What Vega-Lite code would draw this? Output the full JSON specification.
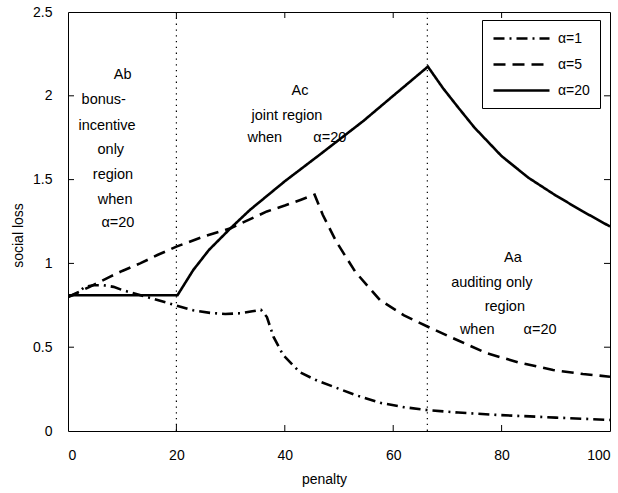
{
  "$schema": "https://vega.github.io/schema/vega-lite/v6.json",
  "width": 542,
  "height": 419,
  "autosize": {"type": "none"},
  "padding": {"left": 68, "top": 12, "right": 8, "bottom": 62},
  "background": "white",
  "config": {
    "font": "Liberation Sans",
    "view": {"stroke": "black", "strokeWidth": 1},
    "axis": {
      "grid": false, "domain": false, "ticks": false,
      "labelColor": "black", "labelFontSize": 14, "labelFont": "Liberation Sans",
      "titleColor": "black", "titleFontSize": 14, "titleFontWeight": "normal", "titleFont": "Liberation Sans"
    },
    "legend": {
      "orient": "none", "legendX": 414, "legendY": 8,
      "strokeColor": "black", "fillColor": "white", "padding": 10, "rowPadding": 10,
      "symbolType": "M-4,0H4", "symbolSize": 196, "symbolOffset": 21, "symbolStrokeWidth": 2.6, "symbolStrokeColor": "black",
      "labelFontSize": 14, "labelFont": "Liberation Sans", "labelColor": "black", "labelOffset": 28, "cornerRadius": 0
    }
  },
  "resolve": {"axis": {"x": "independent", "y": "independent"}},
  "layer": [
    {
      "data": {"values": [
        {"series": "α=1", "penalty": 0, "loss": 0.80},
        {"series": "α=1", "penalty": 1.6, "loss": 0.82},
        {"series": "α=1", "penalty": 3.1, "loss": 0.86},
        {"series": "α=1", "penalty": 4.7, "loss": 0.87},
        {"series": "α=1", "penalty": 6.5, "loss": 0.87},
        {"series": "α=1", "penalty": 8.4, "loss": 0.86},
        {"series": "α=1", "penalty": 10.1, "loss": 0.84},
        {"series": "α=1", "penalty": 14.5, "loss": 0.80},
        {"series": "α=1", "penalty": 18.8, "loss": 0.76},
        {"series": "α=1", "penalty": 23.1, "loss": 0.72},
        {"series": "α=1", "penalty": 26.2, "loss": 0.705},
        {"series": "α=1", "penalty": 29, "loss": 0.698},
        {"series": "α=1", "penalty": 32, "loss": 0.703},
        {"series": "α=1", "penalty": 34, "loss": 0.714},
        {"series": "α=1", "penalty": 35.6, "loss": 0.723},
        {"series": "α=1", "penalty": 36.7, "loss": 0.68},
        {"series": "α=1", "penalty": 37.9, "loss": 0.563},
        {"series": "α=1", "penalty": 39.7, "loss": 0.453},
        {"series": "α=1", "penalty": 42.8, "loss": 0.35},
        {"series": "α=1", "penalty": 46, "loss": 0.30},
        {"series": "α=1", "penalty": 49, "loss": 0.264},
        {"series": "α=1", "penalty": 53, "loss": 0.215},
        {"series": "α=1", "penalty": 57.6, "loss": 0.168},
        {"series": "α=1", "penalty": 62, "loss": 0.142},
        {"series": "α=1", "penalty": 66.2, "loss": 0.125},
        {"series": "α=1", "penalty": 72, "loss": 0.11},
        {"series": "α=1", "penalty": 79.7, "loss": 0.095},
        {"series": "α=1", "penalty": 90, "loss": 0.08},
        {"series": "α=1", "penalty": 100, "loss": 0.066},
        {"series": "α=5", "penalty": 0, "loss": 0.80},
        {"series": "α=5", "penalty": 2, "loss": 0.83},
        {"series": "α=5", "penalty": 4, "loss": 0.86},
        {"series": "α=5", "penalty": 7.7, "loss": 0.92},
        {"series": "α=5", "penalty": 10, "loss": 0.955},
        {"series": "α=5", "penalty": 13.3, "loss": 1.0},
        {"series": "α=5", "penalty": 16.5, "loss": 1.05},
        {"series": "α=5", "penalty": 20, "loss": 1.10},
        {"series": "α=5", "penalty": 25, "loss": 1.16},
        {"series": "α=5", "penalty": 30, "loss": 1.21},
        {"series": "α=5", "penalty": 36.7, "loss": 1.31},
        {"series": "α=5", "penalty": 40, "loss": 1.345},
        {"series": "α=5", "penalty": 43, "loss": 1.38},
        {"series": "α=5", "penalty": 45.5, "loss": 1.41},
        {"series": "α=5", "penalty": 47, "loss": 1.29},
        {"series": "α=5", "penalty": 49.5, "loss": 1.13},
        {"series": "α=5", "penalty": 53, "loss": 0.95},
        {"series": "α=5", "penalty": 57.6, "loss": 0.78},
        {"series": "α=5", "penalty": 62, "loss": 0.69},
        {"series": "α=5", "penalty": 66.2, "loss": 0.625},
        {"series": "α=5", "penalty": 72, "loss": 0.54},
        {"series": "α=5", "penalty": 77.2, "loss": 0.465},
        {"series": "α=5", "penalty": 83, "loss": 0.41},
        {"series": "α=5", "penalty": 89.5, "loss": 0.364},
        {"series": "α=5", "penalty": 95, "loss": 0.34},
        {"series": "α=5", "penalty": 100, "loss": 0.324},
        {"series": "α=20", "penalty": 0, "loss": 0.81},
        {"series": "α=20", "penalty": 20.2, "loss": 0.81},
        {"series": "α=20", "penalty": 23.1, "loss": 0.96},
        {"series": "α=20", "penalty": 26, "loss": 1.08},
        {"series": "α=20", "penalty": 30, "loss": 1.21},
        {"series": "α=20", "penalty": 33.6, "loss": 1.32},
        {"series": "α=20", "penalty": 40, "loss": 1.49},
        {"series": "α=20", "penalty": 46.5, "loss": 1.65},
        {"series": "α=20", "penalty": 54.5, "loss": 1.85},
        {"series": "α=20", "penalty": 60, "loss": 2.0},
        {"series": "α=20", "penalty": 66.4, "loss": 2.174},
        {"series": "α=20", "penalty": 69.2, "loss": 2.045},
        {"series": "α=20", "penalty": 72, "loss": 1.93},
        {"series": "α=20", "penalty": 75, "loss": 1.81},
        {"series": "α=20", "penalty": 80, "loss": 1.64},
        {"series": "α=20", "penalty": 85, "loss": 1.51},
        {"series": "α=20", "penalty": 90, "loss": 1.405},
        {"series": "α=20", "penalty": 95, "loss": 1.31},
        {"series": "α=20", "penalty": 100, "loss": 1.22}
      ]},
      "mark": {"type": "line", "color": "black", "strokeWidth": 2.6, "strokeJoin": "miter", "clip": true},
      "encoding": {
        "x": {"field": "penalty", "type": "quantitative", "scale": {"domain": [0, 100], "nice": false},
              "axis": {"orient": "bottom", "values": [0, 20, 40, 60, 80, 100], "title": "penalty", "labelPadding": 17,
                       "titleX": 256, "titleY": 48, "titleBaseline": "middle", "titleAlign": "center"}},
        "y": {"field": "loss", "type": "quantitative", "scale": {"domain": [0, 2.5], "nice": false},
              "axis": {"orient": "left", "values": [0, 0.5, 1, 1.5, 2, 2.5], "format": ".1~f", "title": "social loss", "labelPadding": 16,
                       "titleX": -50, "titleY": 223, "titleBaseline": "middle", "titleAlign": "center", "titleAngle": 270}},
        "strokeDash": {"field": "series", "type": "nominal",
                       "scale": {"domain": ["α=1", "α=5", "α=20"], "range": [[11, 5, 2, 5], [12, 7], [1, 0]]},
                       "legend": {"title": null}},
        "detail": {"field": "series"}
      }
    },
    {
      "data": {"values": [{"boundary": 20}, {"boundary": 66.3}]},
      "mark": {"type": "rule", "color": "black", "strokeWidth": 1.2, "strokeDash": [1.3, 4.5]},
      "encoding": {
        "x": {"field": "boundary", "type": "quantitative", "axis": null}
      }
    },
    {
      "data": {"values": [{"xt": 20}, {"xt": 40}, {"xt": 60}, {"xt": 80}]},
      "layer": [
        {
          "mark": {"type": "tick", "orient": "vertical", "color": "black", "size": 12, "thickness": 1, "clip": true, "opacity": 1},
          "encoding": {"x": {"field": "xt", "type": "quantitative", "axis": null}, "y": {"datum": 0, "axis": null}}
        },
        {
          "mark": {"type": "tick", "orient": "vertical", "color": "black", "size": 12, "thickness": 1, "clip": true, "opacity": 1},
          "encoding": {"x": {"field": "xt", "type": "quantitative", "axis": null}, "y": {"datum": 2.5, "axis": null}}
        }
      ]
    },
    {
      "data": {"values": [{"yt": 0.5}, {"yt": 1}, {"yt": 1.5}, {"yt": 2}]},
      "layer": [
        {
          "mark": {"type": "tick", "orient": "horizontal", "color": "black", "size": 12, "thickness": 1, "clip": true, "opacity": 1},
          "encoding": {"y": {"field": "yt", "type": "quantitative", "axis": null}, "x": {"datum": 0, "axis": null}}
        },
        {
          "mark": {"type": "tick", "orient": "horizontal", "color": "black", "size": 12, "thickness": 1, "clip": true, "opacity": 1},
          "encoding": {"y": {"field": "yt", "type": "quantitative", "axis": null}, "x": {"datum": 100, "axis": null}}
        }
      ]
    },
    {
      "data": {"values": [
        {"label": "Ab", "px": 10.1, "py": 2.124},
        {"label": "bonus-", "px": 6.6, "py": 1.975},
        {"label": "incentive", "px": 7.2, "py": 1.820},
        {"label": "only", "px": 7.9, "py": 1.677},
        {"label": "region", "px": 8.3, "py": 1.527},
        {"label": "when", "px": 8.7, "py": 1.378},
        {"label": "α=20", "px": 9.2, "py": 1.241},
        {"label": "Ac", "px": 42.8, "py": 2.029},
        {"label": "joint region", "px": 40.4, "py": 1.879},
        {"label": "when", "px": 36.3, "py": 1.748},
        {"label": "α=20", "px": 48.3, "py": 1.748},
        {"label": "Aa", "px": 82.1, "py": 1.032},
        {"label": "auditing only", "px": 78.2, "py": 0.883},
        {"label": "region", "px": 80.6, "py": 0.740},
        {"label": "when", "px": 75.5, "py": 0.603},
        {"label": "α=20", "px": 87.1, "py": 0.603}
      ]},
      "mark": {"type": "text", "color": "black", "font": "Liberation Sans", "fontSize": 14.5, "align": "center", "baseline": "middle"},
      "encoding": {
        "x": {"field": "px", "type": "quantitative", "axis": null},
        "y": {"field": "py", "type": "quantitative", "axis": null},
        "text": {"field": "label"}
      }
    }
  ]
}
